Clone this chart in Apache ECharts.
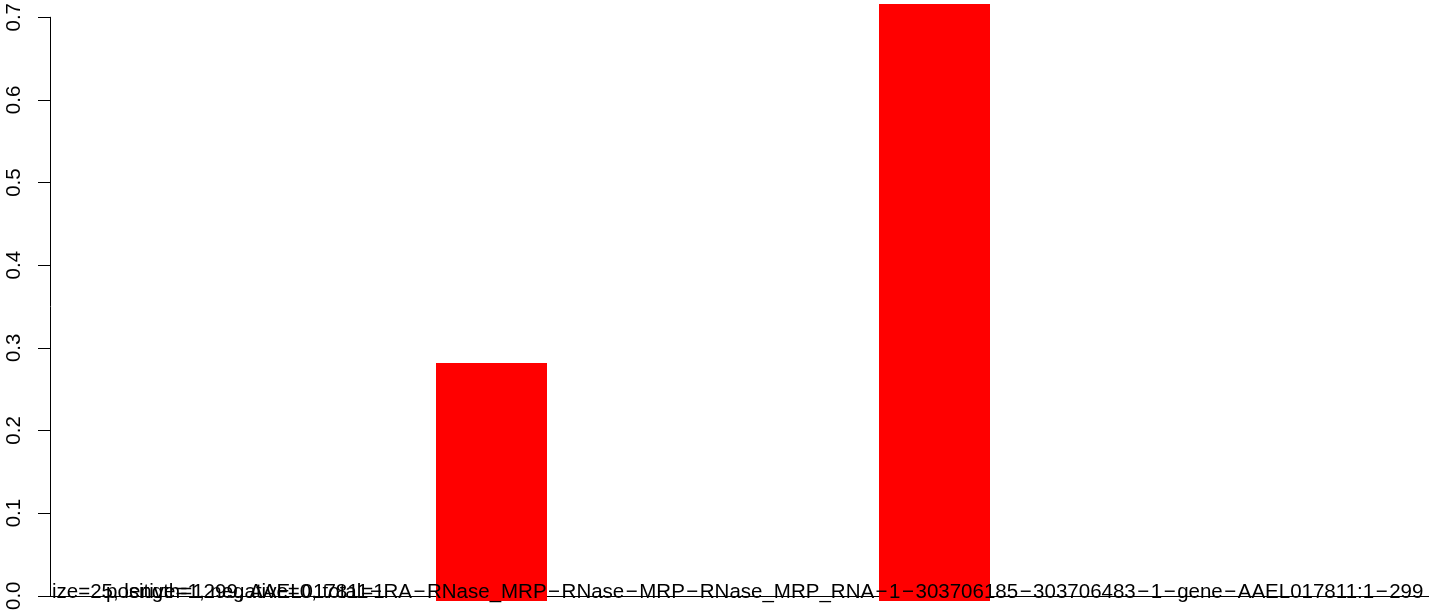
<!DOCTYPE html>
<html><head><meta charset="utf-8">
<script src="https://cdn.jsdelivr.net/npm/echarts@6/dist/echarts.min.js"></script>
<style>html,body{margin:0;padding:0;background:#fff}#c{width:1429px;height:613px}</style>
</head><body><div id="c"></div>
<script>
// categories (only slots 1 and 2 carry visible bars)
const categories = ['c0', 'c1', 'c2', 'c3'];
const values = [null, 0.2853, 0.7156, null];
const yMin = 0, yMax = 0.7, yStep = 0.1;
const labelA = 'ize=25, length=1299, AAEL017811\u2212RA\u2212RNase_MRP\u2212RNase\u2212MRP\u2212RNase_MRP_RNA\u22121\u2212303706185\u2212303706483\u22121\u2212gene\u2212AAEL017811:1\u2212299';
const labelB = 'positive=1, negative=0, total=1';

const FONT = '"Liberation Sans", Arial, Helvetica, sans-serif';
const FS = 20.5;
const richA = labelA.split('\u2212').join('{m|\u2212}');
const chart = echarts.init(document.getElementById('c'), null, {renderer: 'canvas'});
chart.setOption({
  animation: false,
  backgroundColor: '#ffffff',
  grid: [
    {left: 48.5, top: 17, bottom: 12, right: 51.5, containLabel: false},
    {left: 50, top: 17, bottom: 12, right: 0, containLabel: false}
  ],
  xAxis: [
    {gridIndex: 0, type: 'category', data: categories, boundaryGap: false, show: false},
    {gridIndex: 1, type: 'value', min: 0, max: 1,
      axisLine: {show: true, onZero: false, lineStyle: {color: '#000', width: 1}},
      axisTick: {show: false}, axisLabel: {show: false}, splitLine: {show: false}}
  ],
  yAxis: [
    {gridIndex: 0, type: 'value', min: yMin, max: yMax, interval: yStep, show: false},
    {gridIndex: 1, type: 'value', min: yMin, max: yMax, interval: yStep,
      axisLine: {show: true, lineStyle: {color: '#000', width: 1}},
      axisTick: {show: true, length: 12, lineStyle: {color: '#000', width: 1}},
      axisLabel: {rotate: 90, margin: 25, fontSize: FS, color: '#000', fontFamily: FONT,
        formatter: v => v.toFixed(1)},
      splitLine: {show: false}}
  ],
  series: [{
    type: 'bar', xAxisIndex: 0, yAxisIndex: 0, data: values, barWidth: 111, clip: false,
    itemStyle: {color: '#ff0000'}
  }],
  graphic: [
    {type: 'text', left: 52, top: 582, z: 100,
      style: {text: richA, font: FS + 'px ' + FONT, fill: '#000',
        rich: {m: {width: 15, align: 'center', font: FS + 'px ' + FONT, fill: '#000'}}}},
    {type: 'text', left: 106, top: 582, z: 100,
      style: {text: labelB, font: FS + 'px ' + FONT, fill: '#000'}}
  ]
});
</script></body></html>
